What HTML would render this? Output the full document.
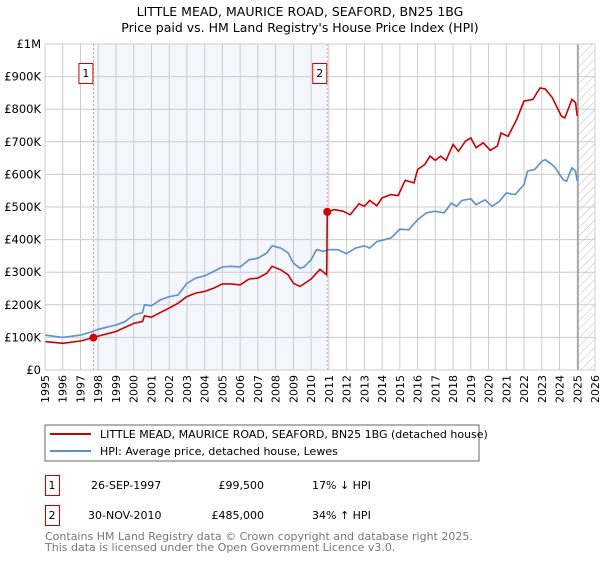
<!DOCTYPE html>
<html><head><meta charset="utf-8"><style>
body{margin:0;background:#fff;width:600px;height:560px;overflow:hidden;font-family:"DejaVu Sans","Liberation Sans",sans-serif}
svg text{font-family:"DejaVu Sans","Liberation Sans",sans-serif}
</style></head><body>
<svg id="c" width="600" height="560">
<defs><pattern id="hatch" width="6" height="6" patternUnits="userSpaceOnUse" patternTransform="rotate(45)"><line x1="0" y1="0" x2="0" y2="6" stroke="#bbb" stroke-width="1"/></pattern></defs>
<text x="300" y="16" text-anchor="middle" font-size="12.5" fill="#000">LITTLE MEAD, MAURICE ROAD, SEAFORD, BN25 1BG</text>
<text x="300" y="32" text-anchor="middle" font-size="12.5" fill="#000">Price paid vs. HM Land Registry's House Price Index (HPI)</text>
<g id="plot"></g>
<rect x="45" y="425" width="434" height="36" fill="#fff" stroke="#666"/>
<line x1="50" y1="434" x2="91" y2="434" stroke="#cc0000" stroke-width="2"/>
<text x="100" y="438" font-size="11">LITTLE MEAD, MAURICE ROAD, SEAFORD, BN25 1BG (detached house)</text>
<line x1="50" y1="451" x2="91" y2="451" stroke="#5b8fd0" stroke-width="2"/>
<text x="100" y="455" font-size="11">HPI: Average price, detached house, Lewes</text>
<g>
<rect x="45.5" y="475.5" width="14" height="20" fill="none" stroke="#cc0000"/><text x="52" y="489" font-size="11" text-anchor="middle">1</text>
<text x="91" y="489" font-size="11">26-SEP-1997</text><text x="264" y="489" font-size="11" text-anchor="end">£99,500</text><text x="312" y="489" font-size="11">17% ↓ HPI</text></g>
<g>
<rect x="45.5" y="505.5" width="14" height="20" fill="none" stroke="#cc0000"/><text x="52" y="519" font-size="11" text-anchor="middle">2</text>
<text x="88" y="519" font-size="11">30-NOV-2010</text><text x="264" y="519" font-size="11" text-anchor="end">£485,000</text><text x="312" y="519" font-size="11">34% ↑ HPI</text></g>
<text x="45" y="540" font-size="11" fill="#777">Contains HM Land Registry data © Crown copyright and database right 2025.</text>
<text x="45" y="551" font-size="11" fill="#777">This data is licensed under the Open Government Licence v3.0.</text>
</svg>
<script>
const hpiYears=[1995,1996,1997,1997.7,1998,1999,1999.5,2000,2000.5,2000.6,2001,2001.5,2002,2002.5,2003,2003.5,2004,2004.5,2005,2005.5,2006,2006.5,2007,2007.5,2007.8,2008.3,2008.7,2009,2009.37,2009.6,2010,2010.3,2010.7,2011,2011.5,2012,2012.5,2013,2013.3,2013.7,2014,2014.5,2015,2015.5,2016,2016.5,2017,2017.5,2017.9,2018.2,2018.5,2019,2019.3,2019.8,2020.2,2020.6,2021,2021.5,2022,2022.2,2022.6,2023,2023.2,2023.7,2024.2,2024.4,2024.7,2024.9,2025.0];
const hpiValues=[107,100,107,118,125,138,148,169,176,200,197,215,225,230,266,282,289,302,316,318,316,338,343,359,381,374,359,328,312,316,338,369,364,369,369,357,374,381,374,394,398,405,432,430,461,482,487,482,512,502,520,525,507,522,502,517,543,538,569,610,615,640,645,625,584,579,620,610,579];
const priceYears=[1995,1996,1997,1997.73,1998,1999,2000,2000.5,2000.6,2001,2001.5,2002,2002.5,2003,2003.5,2004,2004.5,2005,2005.5,2006,2006.5,2007,2007.5,2007.8,2008.3,2008.7,2009,2009.37,2010,2010.5,2010.88,2010.91,2011.3,2011.8,2012.2,2012.7,2013,2013.3,2013.7,2014,2014.5,2014.9,2015.3,2015.8,2016,2016.4,2016.7,2017,2017.3,2017.6,2018,2018.3,2018.7,2019,2019.3,2019.7,2020.1,2020.5,2020.7,2021.1,2021.6,2022,2022.5,2022.9,2023.2,2023.6,2024.1,2024.3,2024.7,2024.9,2025.0];
const priceValues=[87,82,89,99.5,104,118,143,149,166,162,176,190,205,225,236,241,251,264,264,261,279,282,297,318,307,292,266,256,279,309,292,485,492,487,476,510,502,520,504,528,538,535,582,574,615,630,656,643,656,643,692,671,702,712,682,697,674,687,727,717,770,825,830,865,862,835,779,773,830,820,779];
const saleYears=[1997.73,2010.91];
const salePrices=[99.5,485];
const saleLabels=["1","2"];
const yTicks=[0,100,200,300,400,500,600,700,800,900,1000];
const yTickLabels=["£0","£100K","£200K","£300K","£400K","£500K","£600K","£700K","£800K","£900K","£1M"];
const X0=45,X1=595,Y0=370,Y1=44,YR0=1995,YR1=2026,forecastStart=2025.04;
const xs=y=>X0+(y-YR0)/(YR1-YR0)*(X1-X0);
const ys=v=>Y0-v/1000*(Y0-Y1);
const NS="http://www.w3.org/2000/svg",g=document.getElementById('plot');
function mk(t,a,p){const e=document.createElementNS(NS,t);for(const k in a)e.setAttribute(k,a[k]);(p||g).appendChild(e);return e;}
let r=mk('rect',{x:xs(saleYears[0]),y:Y1,width:xs(saleYears[1])-xs(saleYears[0]),height:Y0-Y1,fill:'#f3f6fd'});


let h=mk('rect',{x:xs(forecastStart),y:Y1,width:X1-xs(forecastStart),height:Y0-Y1,fill:'url(#hatch)'});


for(let yr=YR0;yr<=YR1;yr++){
  const l=mk('line',{x1:xs(yr),x2:xs(yr),y1:Y1,y2:Y0,stroke:'#ccc'});
  
  
  const x=xs(yr),t=mk('text',{x:x+4,y:375,'font-size':11,'text-anchor':'end',transform:`rotate(-90 ${x+4} 375)`});
  t.textContent=yr;
  
  
}
yTicks.forEach((v,i)=>{
  const l=mk('line',{x1:X0,x2:X1,y1:ys(v),y2:ys(v),stroke:'#ccc'});
  
  
  const t=mk('text',{x:41,y:ys(v)+4,'font-size':11.5,'text-anchor':'end'});
  t.textContent=yTickLabels[i];
  
  
});
let fl=mk('line',{x1:xs(forecastStart),x2:xs(forecastStart),y1:Y1,y2:Y0,stroke:'#999','stroke-width':1.5});


saleYears.forEach((sy,i)=>{
  const l=mk('line',{x1:xs(sy),x2:xs(sy),y1:Y1,y2:Y0,stroke:'#f08080','stroke-dasharray':'2,2','stroke-width':0.8});
  
  
  const b=mk('rect',{x:xs(sy)-14.5,y:63.5,width:14,height:20,fill:'#fff',stroke:'#cc0000'});
  
  
  const t=mk('text',{x:xs(sy)-7.5,y:77,'font-size':11,'text-anchor':'middle'});
  t.textContent=saleLabels[i];
  
  
});
const path=(xa,va)=>xa.map((y,i)=>(i?'L':'M')+xs(y).toFixed(1)+','+ys(va[i]).toFixed(1)).join('');
let hp=mk('path',{d:path(hpiYears,hpiValues),fill:'none',stroke:'#5b8fd0','stroke-width':1.6});


let pp=mk('path',{d:path(priceYears,priceValues),fill:'none',stroke:'#cc0000','stroke-width':1.6});


saleYears.forEach((sy,i)=>{
  const c=mk('circle',{cx:xs(sy),cy:ys(salePrices[i]),r:4,fill:'#cc0000'});
  
  
});
let fr=mk('rect',{x:X0,y:Y1,width:X1-X0,height:Y0-Y1,fill:'none',stroke:'#ccc'});


</script>
</body></html>
